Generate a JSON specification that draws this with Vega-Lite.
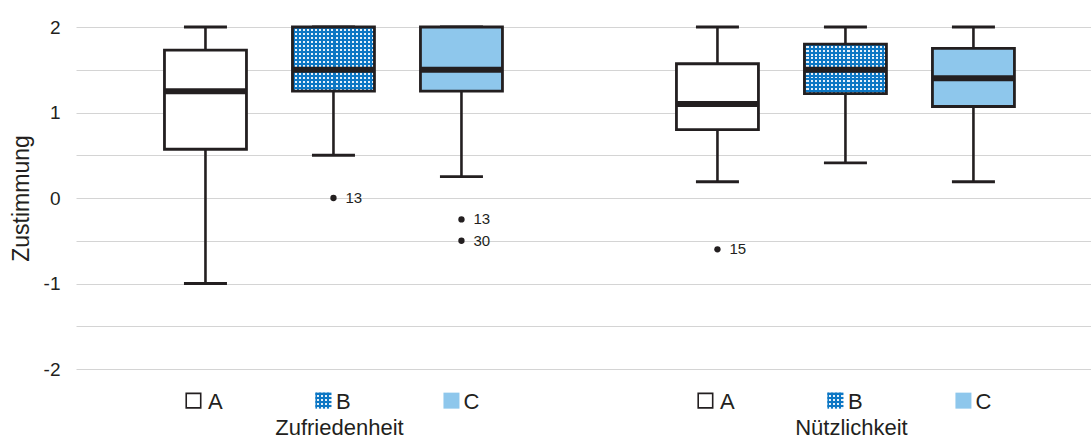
{
  "$schema": "https://vega.github.io/schema/vega-lite/v6.json",
  "width": 1015,
  "height": 342,
  "autosize": "none",
  "padding": {"left": 76, "top": 27, "right": 0, "bottom": 70},
  "background": "white",
  "config": {"view": {"stroke": null}, "font": "Liberation Sans"},
  "datasets": {
    "boxes": [
      {"grp": "Zufriedenheit", "cond": "A", "key": "Z-A", "min": -1, "q1": 0.57, "med": 1.25, "q3": 1.73, "max": 2},
      {"grp": "Zufriedenheit", "cond": "B", "key": "Z-B", "min": 0.5, "q1": 1.25, "med": 1.5, "q3": 2, "max": 2},
      {"grp": "Zufriedenheit", "cond": "C", "key": "Z-C", "min": 0.25, "q1": 1.25, "med": 1.5, "q3": 2, "max": 2},
      {"grp": "Nützlichkeit", "cond": "A", "key": "N-A", "min": 0.19, "q1": 0.8, "med": 1.1, "q3": 1.57, "max": 2},
      {"grp": "Nützlichkeit", "cond": "B", "key": "N-B", "min": 0.41, "q1": 1.22, "med": 1.5, "q3": 1.8, "max": 2},
      {"grp": "Nützlichkeit", "cond": "C", "key": "N-C", "min": 0.19, "q1": 1.07, "med": 1.4, "q3": 1.75, "max": 2}
    ],
    "outliers": [
      {"key": "Z-B", "v": 0, "lab": "13"},
      {"key": "Z-C", "v": -0.25, "lab": "13"},
      {"key": "Z-C", "v": -0.5, "lab": "30"},
      {"key": "N-A", "v": -0.6, "lab": "15"}
    ]
  },
  "encoding": {
    "x": {
      "field": "key",
      "type": "nominal",
      "sort": null,
      "scale": {"domain": ["Z-A", "Z-B", "Z-C", "gap", "N-A", "N-B", "N-C"], "paddingInner": 0, "paddingOuter": 0.465, "align": 0.55},
      "axis": {
        "title": null, "domain": false, "ticks": false, "grid": false, "labelAngle": 0,
        "labelExpr": "datum.value == 'gap' ? '' : substring(datum.value, 2)",
        "labelFontSize": 22, "labelColor": "#231f20", "labelPadding": 39, "labelBaseline": "alphabetic", "labelOffset": 10,
        "labelFont": "Liberation Sans"
      }
    }
  },
  "layer": [
    {
      "data": {"name": "boxes"},
      "mark": {"type": "rule", "color": "#231f20", "strokeWidth": 2.6},
      "encoding": {
        "y": {
          "field": "min", "type": "quantitative",
          "scale": {"domain": [-2, 2], "nice": false, "zero": false},
          "axis": {
            "title": "Zustimmung", "titleFontSize": 23, "titleFontWeight": "normal", "titleColor": "#231f20", "titlePadding": 10,
            "values": [-2, -1.5, -1, -0.5, 0, 0.5, 1, 1.5, 2],
            "labelExpr": "datum.value % 1 === 0 ? toString(datum.value) : ''",
            "labelFontSize": 19, "labelColor": "#231f20", "labelPadding": 16,
            "domain": false, "ticks": false, "gridColor": "#d4d4d4", "gridWidth": 1
          }
        },
        "y2": {"field": "max"}
      }
    },
    {
      "data": {"name": "boxes"},
      "mark": {"type": "tick", "color": "#231f20", "opacity": 1, "thickness": 2.8, "size": 43},
      "encoding": {"y": {"field": "min", "type": "quantitative"}}
    },
    {
      "data": {"name": "boxes"},
      "mark": {"type": "tick", "color": "#231f20", "opacity": 1, "thickness": 2.8, "size": 43},
      "encoding": {"y": {"field": "max", "type": "quantitative"}}
    },
    {
      "data": {"name": "boxes"},
      "transform": [{"filter": "datum.cond != 'B'"}],
      "mark": {"type": "bar", "size": 82, "stroke": "#231f20", "strokeWidth": 2.8},
      "encoding": {
        "y": {"field": "q1", "type": "quantitative"},
        "y2": {"field": "q3"},
        "fill": {"field": "cond", "type": "nominal", "scale": {"domain": ["A", "C"], "range": ["#ffffff", "#8ec7ec"]}, "legend": null}
      }
    },
    {
      "data": {"name": "boxes"},
      "transform": [{"filter": "datum.cond == 'B'"}],
      "mark": {"type": "bar", "size": 82, "fill": "#e6f1fa"},
      "encoding": {"y": {"field": "q1", "type": "quantitative"}, "y2": {"field": "q3"}}
    },
    {
      "data": {"name": "boxes"},
      "transform": [{"filter": "datum.cond == 'B'"}],
      "mark": {"type": "bar", "size": 82, "fill": {"gradient": "linear", "x1": 0, "y1": 0, "x2": 1, "y2": 0, "stops": [
        {"offset": 0, "color": "#0d77c4"}, {"offset": 0.025, "color": "#0d77c4"}, {"offset": 0.025, "color": "transparent"}, {"offset": 0.05, "color": "transparent"},
        {"offset": 0.05, "color": "#0d77c4"}, {"offset": 0.075, "color": "#0d77c4"}, {"offset": 0.075, "color": "transparent"}, {"offset": 0.1, "color": "transparent"},
        {"offset": 0.1, "color": "#0d77c4"}, {"offset": 0.125, "color": "#0d77c4"}, {"offset": 0.125, "color": "transparent"}, {"offset": 0.15, "color": "transparent"},
        {"offset": 0.15, "color": "#0d77c4"}, {"offset": 0.175, "color": "#0d77c4"}, {"offset": 0.175, "color": "transparent"}, {"offset": 0.2, "color": "transparent"},
        {"offset": 0.2, "color": "#0d77c4"}, {"offset": 0.225, "color": "#0d77c4"}, {"offset": 0.225, "color": "transparent"}, {"offset": 0.25, "color": "transparent"},
        {"offset": 0.25, "color": "#0d77c4"}, {"offset": 0.275, "color": "#0d77c4"}, {"offset": 0.275, "color": "transparent"}, {"offset": 0.3, "color": "transparent"},
        {"offset": 0.3, "color": "#0d77c4"}, {"offset": 0.325, "color": "#0d77c4"}, {"offset": 0.325, "color": "transparent"}, {"offset": 0.35, "color": "transparent"},
        {"offset": 0.35, "color": "#0d77c4"}, {"offset": 0.375, "color": "#0d77c4"}, {"offset": 0.375, "color": "transparent"}, {"offset": 0.4, "color": "transparent"},
        {"offset": 0.4, "color": "#0d77c4"}, {"offset": 0.425, "color": "#0d77c4"}, {"offset": 0.425, "color": "transparent"}, {"offset": 0.45, "color": "transparent"},
        {"offset": 0.45, "color": "#0d77c4"}, {"offset": 0.475, "color": "#0d77c4"}, {"offset": 0.475, "color": "transparent"}, {"offset": 0.5, "color": "transparent"},
        {"offset": 0.5, "color": "#0d77c4"}, {"offset": 0.525, "color": "#0d77c4"}, {"offset": 0.525, "color": "transparent"}, {"offset": 0.55, "color": "transparent"},
        {"offset": 0.55, "color": "#0d77c4"}, {"offset": 0.575, "color": "#0d77c4"}, {"offset": 0.575, "color": "transparent"}, {"offset": 0.6, "color": "transparent"},
        {"offset": 0.6, "color": "#0d77c4"}, {"offset": 0.625, "color": "#0d77c4"}, {"offset": 0.625, "color": "transparent"}, {"offset": 0.65, "color": "transparent"},
        {"offset": 0.65, "color": "#0d77c4"}, {"offset": 0.675, "color": "#0d77c4"}, {"offset": 0.675, "color": "transparent"}, {"offset": 0.7, "color": "transparent"},
        {"offset": 0.7, "color": "#0d77c4"}, {"offset": 0.725, "color": "#0d77c4"}, {"offset": 0.725, "color": "transparent"}, {"offset": 0.75, "color": "transparent"},
        {"offset": 0.75, "color": "#0d77c4"}, {"offset": 0.775, "color": "#0d77c4"}, {"offset": 0.775, "color": "transparent"}, {"offset": 0.8, "color": "transparent"},
        {"offset": 0.8, "color": "#0d77c4"}, {"offset": 0.825, "color": "#0d77c4"}, {"offset": 0.825, "color": "transparent"}, {"offset": 0.85, "color": "transparent"},
        {"offset": 0.85, "color": "#0d77c4"}, {"offset": 0.875, "color": "#0d77c4"}, {"offset": 0.875, "color": "transparent"}, {"offset": 0.9, "color": "transparent"},
        {"offset": 0.9, "color": "#0d77c4"}, {"offset": 0.925, "color": "#0d77c4"}, {"offset": 0.925, "color": "transparent"}, {"offset": 0.95, "color": "transparent"},
        {"offset": 0.95, "color": "#0d77c4"}, {"offset": 0.975, "color": "#0d77c4"}, {"offset": 0.975, "color": "transparent"}, {"offset": 1, "color": "transparent"}
      ]}},
      "encoding": {"y": {"field": "q1", "type": "quantitative"}, "y2": {"field": "q3"}}
    },
    {
      "data": {"name": "boxes"},
      "transform": [{"filter": "datum.key == 'Z-B'"}],
      "mark": {"type": "bar", "size": 82, "fill": {"gradient": "linear", "x1": 0, "y1": 0, "x2": 0, "y2": 1, "stops": [
        {"offset": 0, "color": "#0d77c4"}, {"offset": 0.03125, "color": "#0d77c4"}, {"offset": 0.03125, "color": "transparent"}, {"offset": 0.0625, "color": "transparent"},
        {"offset": 0.0625, "color": "#0d77c4"}, {"offset": 0.09375, "color": "#0d77c4"}, {"offset": 0.09375, "color": "transparent"}, {"offset": 0.125, "color": "transparent"},
        {"offset": 0.125, "color": "#0d77c4"}, {"offset": 0.15625, "color": "#0d77c4"}, {"offset": 0.15625, "color": "transparent"}, {"offset": 0.1875, "color": "transparent"},
        {"offset": 0.1875, "color": "#0d77c4"}, {"offset": 0.21875, "color": "#0d77c4"}, {"offset": 0.21875, "color": "transparent"}, {"offset": 0.25, "color": "transparent"},
        {"offset": 0.25, "color": "#0d77c4"}, {"offset": 0.28125, "color": "#0d77c4"}, {"offset": 0.28125, "color": "transparent"}, {"offset": 0.3125, "color": "transparent"},
        {"offset": 0.3125, "color": "#0d77c4"}, {"offset": 0.34375, "color": "#0d77c4"}, {"offset": 0.34375, "color": "transparent"}, {"offset": 0.375, "color": "transparent"},
        {"offset": 0.375, "color": "#0d77c4"}, {"offset": 0.40625, "color": "#0d77c4"}, {"offset": 0.40625, "color": "transparent"}, {"offset": 0.4375, "color": "transparent"},
        {"offset": 0.4375, "color": "#0d77c4"}, {"offset": 0.46875, "color": "#0d77c4"}, {"offset": 0.46875, "color": "transparent"}, {"offset": 0.5, "color": "transparent"},
        {"offset": 0.5, "color": "#0d77c4"}, {"offset": 0.53125, "color": "#0d77c4"}, {"offset": 0.53125, "color": "transparent"}, {"offset": 0.5625, "color": "transparent"},
        {"offset": 0.5625, "color": "#0d77c4"}, {"offset": 0.59375, "color": "#0d77c4"}, {"offset": 0.59375, "color": "transparent"}, {"offset": 0.625, "color": "transparent"},
        {"offset": 0.625, "color": "#0d77c4"}, {"offset": 0.65625, "color": "#0d77c4"}, {"offset": 0.65625, "color": "transparent"}, {"offset": 0.6875, "color": "transparent"},
        {"offset": 0.6875, "color": "#0d77c4"}, {"offset": 0.71875, "color": "#0d77c4"}, {"offset": 0.71875, "color": "transparent"}, {"offset": 0.75, "color": "transparent"},
        {"offset": 0.75, "color": "#0d77c4"}, {"offset": 0.78125, "color": "#0d77c4"}, {"offset": 0.78125, "color": "transparent"}, {"offset": 0.8125, "color": "transparent"},
        {"offset": 0.8125, "color": "#0d77c4"}, {"offset": 0.84375, "color": "#0d77c4"}, {"offset": 0.84375, "color": "transparent"}, {"offset": 0.875, "color": "transparent"},
        {"offset": 0.875, "color": "#0d77c4"}, {"offset": 0.90625, "color": "#0d77c4"}, {"offset": 0.90625, "color": "transparent"}, {"offset": 0.9375, "color": "transparent"},
        {"offset": 0.9375, "color": "#0d77c4"}, {"offset": 0.96875, "color": "#0d77c4"}, {"offset": 0.96875, "color": "transparent"}, {"offset": 1, "color": "transparent"}
      ]}},
      "encoding": {"y": {"field": "q1", "type": "quantitative"}, "y2": {"field": "q3"}}
    },
    {
      "data": {"name": "boxes"},
      "transform": [{"filter": "datum.key == 'N-B'"}],
      "mark": {"type": "bar", "size": 82, "fill": {"gradient": "linear", "x1": 0, "y1": 0, "x2": 0, "y2": 1, "stops": [
        {"offset": 0, "color": "#0d77c4"}, {"offset": 0.0385, "color": "#0d77c4"}, {"offset": 0.0385, "color": "transparent"}, {"offset": 0.0769, "color": "transparent"},
        {"offset": 0.0769, "color": "#0d77c4"}, {"offset": 0.1154, "color": "#0d77c4"}, {"offset": 0.1154, "color": "transparent"}, {"offset": 0.1538, "color": "transparent"},
        {"offset": 0.1538, "color": "#0d77c4"}, {"offset": 0.1923, "color": "#0d77c4"}, {"offset": 0.1923, "color": "transparent"}, {"offset": 0.2308, "color": "transparent"},
        {"offset": 0.2308, "color": "#0d77c4"}, {"offset": 0.2692, "color": "#0d77c4"}, {"offset": 0.2692, "color": "transparent"}, {"offset": 0.3077, "color": "transparent"},
        {"offset": 0.3077, "color": "#0d77c4"}, {"offset": 0.3462, "color": "#0d77c4"}, {"offset": 0.3462, "color": "transparent"}, {"offset": 0.3846, "color": "transparent"},
        {"offset": 0.3846, "color": "#0d77c4"}, {"offset": 0.4231, "color": "#0d77c4"}, {"offset": 0.4231, "color": "transparent"}, {"offset": 0.4615, "color": "transparent"},
        {"offset": 0.4615, "color": "#0d77c4"}, {"offset": 0.5, "color": "#0d77c4"}, {"offset": 0.5, "color": "transparent"}, {"offset": 0.5385, "color": "transparent"},
        {"offset": 0.5385, "color": "#0d77c4"}, {"offset": 0.5769, "color": "#0d77c4"}, {"offset": 0.5769, "color": "transparent"}, {"offset": 0.6154, "color": "transparent"},
        {"offset": 0.6154, "color": "#0d77c4"}, {"offset": 0.6538, "color": "#0d77c4"}, {"offset": 0.6538, "color": "transparent"}, {"offset": 0.6923, "color": "transparent"},
        {"offset": 0.6923, "color": "#0d77c4"}, {"offset": 0.7308, "color": "#0d77c4"}, {"offset": 0.7308, "color": "transparent"}, {"offset": 0.7692, "color": "transparent"},
        {"offset": 0.7692, "color": "#0d77c4"}, {"offset": 0.8077, "color": "#0d77c4"}, {"offset": 0.8077, "color": "transparent"}, {"offset": 0.8462, "color": "transparent"},
        {"offset": 0.8462, "color": "#0d77c4"}, {"offset": 0.8846, "color": "#0d77c4"}, {"offset": 0.8846, "color": "transparent"}, {"offset": 0.9231, "color": "transparent"},
        {"offset": 0.9231, "color": "#0d77c4"}, {"offset": 0.9615, "color": "#0d77c4"}, {"offset": 0.9615, "color": "transparent"}, {"offset": 1, "color": "transparent"}
      ]}},
      "encoding": {"y": {"field": "q1", "type": "quantitative"}, "y2": {"field": "q3"}}
    },
    {
      "data": {"name": "boxes"},
      "transform": [{"filter": "datum.cond == 'B'"}],
      "mark": {"type": "bar", "size": 82, "fill": "transparent", "stroke": "#231f20", "strokeWidth": 2.8},
      "encoding": {"y": {"field": "q1", "type": "quantitative"}, "y2": {"field": "q3"}}
    },
    {
      "data": {"name": "boxes"},
      "mark": {"type": "tick", "color": "#231f20", "opacity": 1, "thickness": 6, "size": 82},
      "encoding": {"y": {"field": "med", "type": "quantitative"}}
    },
    {
      "data": {"name": "outliers"},
      "mark": {"type": "point", "filled": true, "color": "#231f20", "size": 40, "opacity": 1},
      "encoding": {"y": {"field": "v", "type": "quantitative"}}
    },
    {
      "data": {"name": "outliers"},
      "mark": {"type": "text", "align": "left", "baseline": "middle", "dx": 12, "fontSize": 15, "color": "#231f20"},
      "encoding": {"y": {"field": "v", "type": "quantitative"}, "text": {"field": "lab"}}
    },
    {
      "data": {"name": "boxes"},
      "transform": [{"filter": "datum.cond == 'A'"}],
      "mark": {"type": "point", "shape": "square", "filled": false, "stroke": "#231f20", "strokeWidth": 1.6, "opacity": 1, "size": 210, "xOffset": -12, "clip": false},
      "encoding": {"y": {"datum": -2.37, "type": "quantitative"}}
    },
    {
      "data": {"name": "boxes"},
      "transform": [{"filter": "datum.cond == 'C'"}],
      "mark": {"type": "point", "shape": "square", "filled": true, "fill": "#8ec7ec", "opacity": 1, "size": 256, "xOffset": -10, "clip": false},
      "encoding": {"y": {"datum": -2.37, "type": "quantitative"}}
    },
    {
      "data": {"name": "boxes"},
      "transform": [{"filter": "datum.cond == 'B'"}],
      "mark": {"type": "point", "shape": "square", "filled": true, "fill": "#e6f1fa", "opacity": 1, "size": 256, "xOffset": -10, "clip": false},
      "encoding": {"y": {"datum": -2.37, "type": "quantitative"}}
    },
    {
      "data": {"name": "boxes"},
      "transform": [{"filter": "datum.cond == 'B'"}],
      "mark": {"type": "point", "shape": "square", "filled": true, "opacity": 1, "size": 256, "xOffset": -10, "clip": false, "fill": {"gradient": "linear", "x1": 0, "y1": 0, "x2": 1, "y2": 0, "stops": [
        {"offset": 0, "color": "#0d77c4"}, {"offset": 0.125, "color": "#0d77c4"}, {"offset": 0.125, "color": "transparent"}, {"offset": 0.25, "color": "transparent"},
        {"offset": 0.25, "color": "#0d77c4"}, {"offset": 0.375, "color": "#0d77c4"}, {"offset": 0.375, "color": "transparent"}, {"offset": 0.5, "color": "transparent"},
        {"offset": 0.5, "color": "#0d77c4"}, {"offset": 0.625, "color": "#0d77c4"}, {"offset": 0.625, "color": "transparent"}, {"offset": 0.75, "color": "transparent"},
        {"offset": 0.75, "color": "#0d77c4"}, {"offset": 0.875, "color": "#0d77c4"}, {"offset": 0.875, "color": "transparent"}, {"offset": 1, "color": "transparent"}
      ]}},
      "encoding": {"y": {"datum": -2.37, "type": "quantitative"}}
    },
    {
      "data": {"name": "boxes"},
      "transform": [{"filter": "datum.cond == 'B'"}],
      "mark": {"type": "point", "shape": "square", "filled": true, "opacity": 1, "size": 256, "xOffset": -10, "clip": false, "fill": {"gradient": "linear", "x1": 0, "y1": 0, "x2": 0, "y2": 1, "stops": [
        {"offset": 0, "color": "#0d77c4"}, {"offset": 0.125, "color": "#0d77c4"}, {"offset": 0.125, "color": "transparent"}, {"offset": 0.25, "color": "transparent"},
        {"offset": 0.25, "color": "#0d77c4"}, {"offset": 0.375, "color": "#0d77c4"}, {"offset": 0.375, "color": "transparent"}, {"offset": 0.5, "color": "transparent"},
        {"offset": 0.5, "color": "#0d77c4"}, {"offset": 0.625, "color": "#0d77c4"}, {"offset": 0.625, "color": "transparent"}, {"offset": 0.75, "color": "transparent"},
        {"offset": 0.75, "color": "#0d77c4"}, {"offset": 0.875, "color": "#0d77c4"}, {"offset": 0.875, "color": "transparent"}, {"offset": 1, "color": "transparent"}
      ]}},
      "encoding": {"y": {"datum": -2.37, "type": "quantitative"}}
    },
    {
      "data": {"name": "boxes"},
      "transform": [{"filter": "datum.cond == 'B'"}],
      "mark": {"type": "text", "fontSize": 22, "color": "#231f20", "baseline": "alphabetic", "align": "center", "xOffset": 6, "clip": false},
      "encoding": {"y": {"datum": -2.77, "type": "quantitative"}, "text": {"field": "grp"}}
    }
  ]
}
